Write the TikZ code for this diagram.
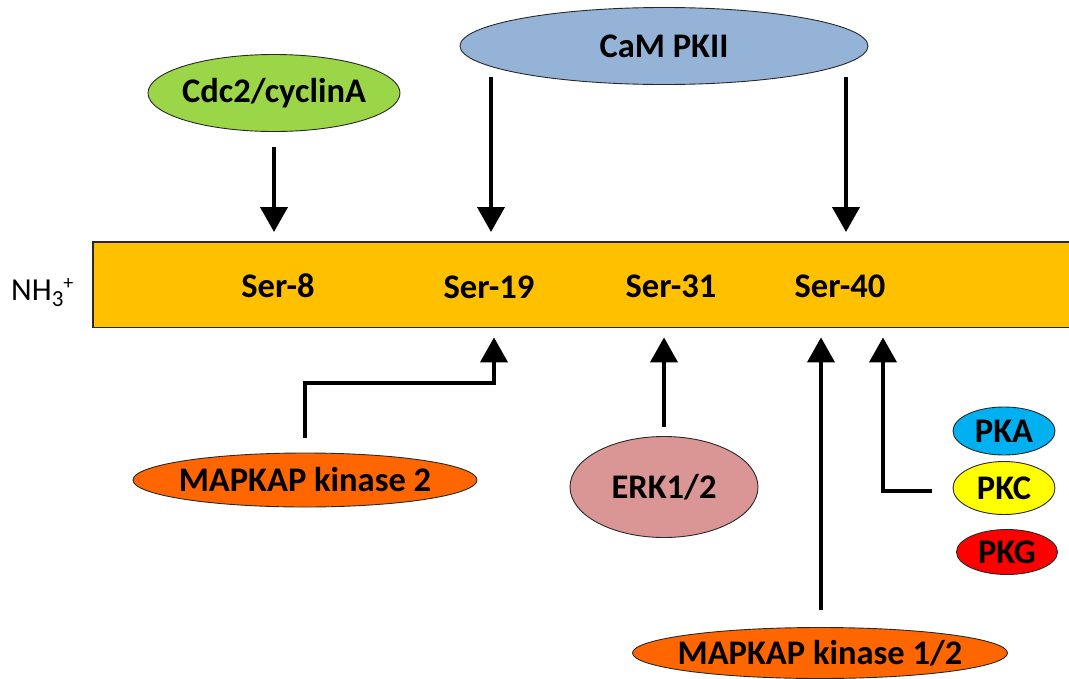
\documentclass[tikz,border=0pt]{standalone}
\usepackage{fontspec}
\setmainfont{Carlito}
\usetikzlibrary{shapes.geometric,arrows.meta}
\definecolor{barc}{RGB}{255,192,0}
\definecolor{cdcc}{RGB}{155,214,72}
\definecolor{camc}{RGB}{149,179,215}
\definecolor{mkc}{RGB}{255,102,0}
\definecolor{erkc}{RGB}{217,150,148}
\definecolor{pkac}{RGB}{0,176,240}
\definecolor{pkcc}{RGB}{255,255,0}
\definecolor{pkgc}{RGB}{255,0,0}
\definecolor{edgec}{RGB}{40,40,40}
\newcommand{\kt}[1]{\makebox[0pt]{#1}}
\tikzset{
  kin/.style={ellipse, draw=edgec, line width=0.9pt, inner sep=0pt,
    font=\fontsize{34.5}{40}\selectfont\bfseries},
  serlab/.style={inner sep=0pt, font=\fontsize{34.5}{40}\selectfont\bfseries},
  arr/.style={line width=4pt, -{Triangle[width=27pt,length=25pt]}},
  elbow/.style={line width=4pt, -{Triangle[width=27pt,length=25pt]}}
}
\begin{document}
\begin{tikzpicture}[x=1pt,y=-1pt]
\useasboundingbox (0,0) rectangle (1069,678);
% bar
\node[fill=barc, minimum width=976pt, minimum height=85pt, anchor=north west, inner sep=0pt] (bar) at (93,242) {};
\draw[edgec, line width=1.2pt] (bar.north east) -- (bar.north west) -- (bar.south west) -- (bar.south east);
\node[inner sep=0pt, font=\fontsize{32}{36}\selectfont, anchor=west] (nh) at (11,293) {NH\raisebox{-6pt}{\fontsize{23}{24}\selectfont 3}\raisebox{11pt}{\fontsize{20}{24}\selectfont +}};
% serine labels
\node[serlab] (s8) at (278,286) {Ser-8};
\node[serlab] (s19) at (489,287) {Ser-19};
\node[serlab] (s31) at (671,286) {Ser-31};
\node[serlab] (s40) at (840,286) {Ser-40};
% kinases
\node[kin, fill=cdcc, minimum width=252pt, minimum height=77pt] (cdc) at (274,93) {\kt{Cdc2/cyclinA}};
\node[kin, fill=camc, minimum width=408pt, minimum height=77pt] (cam) at (664,46) {\kt{CaM PKII}};
\node[kin, fill=mkc, minimum width=344pt, minimum height=54pt] (mk2) at (305,480) {\kt{MAPKAP kinase 2}};
\node[kin, fill=erkc, minimum width=188pt, minimum height=101pt] (erk) at (664,487) {\kt{ERK1/2}};
\node[kin, fill=mkc, minimum width=375pt, minimum height=51pt] (mk12) at (820,653) {\kt{MAPKAP kinase 1/2}};
\node[kin, fill=pkac, minimum width=102pt, minimum height=48pt] (pka) at (1004,431) {\kt{PKA}};
\node[kin, fill=pkcc, minimum width=102pt, minimum height=53pt] (pkc) at (1004,488) {\kt{PKC}};
\node[kin, fill=pkgc, minimum width=101pt, minimum height=45pt] (pkg) at (1007,552) {\kt{PKG}};
% connector anchor points
\coordinate (cdcs) at (274,147);
\coordinate (cama) at (491,77);
\coordinate (camb) at (846,77);
\coordinate (mk2s) at (305,438);
\coordinate (mk2c) at (305,383);
\coordinate (mk2d) at (494,383);
\coordinate (erks) at (664,427);
\coordinate (mk12s) at (821,610);
\coordinate (pkcs) at (932,491);
\coordinate (pkcc) at (883,491);
% arrows
\draw[arr, shorten >=10pt] (cdcs) -- (cdcs |- bar.north);
\draw[arr, shorten >=10pt] (cama) -- (cama |- bar.north);
\draw[arr, shorten >=10pt] (camb) -- (camb |- bar.north);
\draw[elbow, shorten >=10pt] (mk2s) -- (mk2c) -- (mk2d) -- (mk2d |- bar.south);
\draw[arr, shorten >=10pt] (erks) -- (erks |- bar.south);
\draw[arr, shorten >=10pt] (mk12s) -- (mk12s |- bar.south);
\draw[elbow, shorten >=10pt] (pkcs) -- (pkcc) -- (pkcc |- bar.south);
\end{tikzpicture}
\end{document}
